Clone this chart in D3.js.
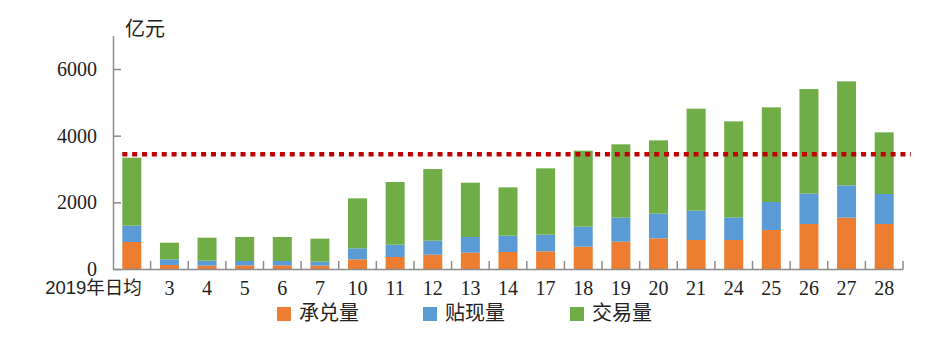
<!DOCTYPE html>
<html>
<head>
<meta charset="utf-8">
<script src="https://cdn.jsdelivr.net/npm/d3@7"></script>
<style>
  html, body { margin: 0; padding: 0; background: #fff; }
  svg { display: block; }
</style>
</head>
<body>
<svg id="chart" width="928" height="339"></svg>
<script>
// ---- Data ----
const categories = ["2019年日均","3","4","5","6","7","10","11","12","13","14","17","18","19","20","21","24","25","26","27","28"];
const acceptance = [810,120,100,110,110,100,290,360,430,490,510,530,670,820,920,870,870,1170,1350,1540,1350];
const discount   = [490,170,150,130,130,120,330,370,420,470,490,500,600,720,740,880,680,840,910,970,900];
const trade      = [2040,500,690,720,720,690,1500,1880,2150,1630,1450,1990,2280,2200,2200,3060,2880,2840,3140,3120,1850];
const seriesNames = ["承兑量","贴现量","交易量"];
const seriesColors = ["#ED7D31","#5B9BD5","#70AD47"];
const yTicks = [0,2000,4000,6000];
const yMax = 7000;
const referenceValue = 3440;
const unitLabel = "亿元";

(function draw() {
  const svg = d3.select("#chart");
  const mLeft = 113, mRight = 903, mTop = 35.7, mBottom = 269;
  const serif = "'Liberation Serif','Times New Roman',serif";
  const cjk = "'Noto Sans CJK SC','Noto Sans',sans-serif";
  const axisColor = "#8c8c8c";

  const x = d3.scaleBand().domain(categories).range([mLeft, mRight])
    .paddingInner(0.495).paddingOuter(0.2475);
  const y = d3.scaleLinear().domain([0, yMax]).range([mBottom, mTop]);

  const rows = categories.map((c, i) => ({cat: c, a: acceptance[i], d: discount[i], t: trade[i]}));
  const stack = d3.stack().keys(["a","d","t"])(rows);

  // bars
  svg.append("g").selectAll("g").data(stack).join("g")
    .attr("fill", (s, i) => seriesColors[i])
    .selectAll("rect").data(s => s).join("rect")
    .attr("x", d => x(d.data.cat))
    .attr("width", x.bandwidth())
    .attr("y", d => y(d[1]))
    .attr("height", d => y(d[0]) - y(d[1]));

  // reference dotted line
  svg.append("line")
    .attr("x1", x(categories[0]))
    .attr("x2", mRight + 8)
    .attr("y1", y(referenceValue)).attr("y2", y(referenceValue))
    .attr("stroke", "#C00000").attr("stroke-width", 4.5)
    .attr("stroke-dasharray", "5,4.85");

  // y axis
  const yAxis = svg.append("g").attr("transform", `translate(${mLeft},0)`)
    .call(d3.axisLeft(y).tickValues(yTicks).tickSizeInner(-8).tickSizeOuter(0).tickPadding(16).tickFormat(d3.format("d")));
  yAxis.select(".domain").attr("stroke", axisColor).attr("stroke-width", 1.5);
  yAxis.selectAll(".tick line").attr("stroke", axisColor).attr("stroke-width", 1.5);
  yAxis.selectAll(".tick text").attr("font-family", serif).attr("font-size", 20).attr("fill", "#222");

  // x axis
  const xAxis = svg.append("g").attr("transform", `translate(0,${mBottom})`)
    .call(d3.axisBottom(x).tickSize(0).tickPadding(12));
  xAxis.select(".domain").attr("stroke", axisColor).attr("stroke-width", 1.5);
  xAxis.selectAll(".tick text").attr("font-family", serif).attr("font-size", 20).attr("fill", "#222");
  const first = xAxis.select(".tick text");
  first.text(null).attr("text-anchor", "end").attr("x", 10).attr("font-size", 18.5);
  first.append("tspan").attr("font-family", "'Liberation Sans',Arial,sans-serif").text(categories[0].slice(0,4));
  first.append("tspan").attr("font-family", cjk).text(categories[0].slice(4));

  // boundary tick marks (pointing upward)
  svg.append("g").selectAll("line").data(d3.range(1, categories.length + 1)).join("line")
    .attr("x1", k => x.range()[0] + k * x.step())
    .attr("x2", k => x.range()[0] + k * x.step())
    .attr("y1", mBottom).attr("y2", mBottom - 8)
    .attr("stroke", axisColor).attr("stroke-width", 1.5);

  // unit label
  svg.append("text").attr("x", 125).attr("y", 36)
    .attr("font-family", cjk).attr("font-size", 20).attr("fill", "#222")
    .text(unitLabel);

  // legend
  const legendX = [277, 423, 570];
  const legend = svg.append("g").selectAll("g").data(seriesNames).join("g")
    .attr("transform", (d, i) => `translate(${legendX[i]},307)`);
  legend.append("rect").attr("width", 14).attr("height", 14)
    .attr("fill", (d, i) => seriesColors[i]);
  legend.append("text").attr("x", 22).attr("y", 13)
    .attr("font-family", cjk).attr("font-size", 20).attr("fill", "#222")
    .text(d => d);
})();
</script>
</body>
</html>
